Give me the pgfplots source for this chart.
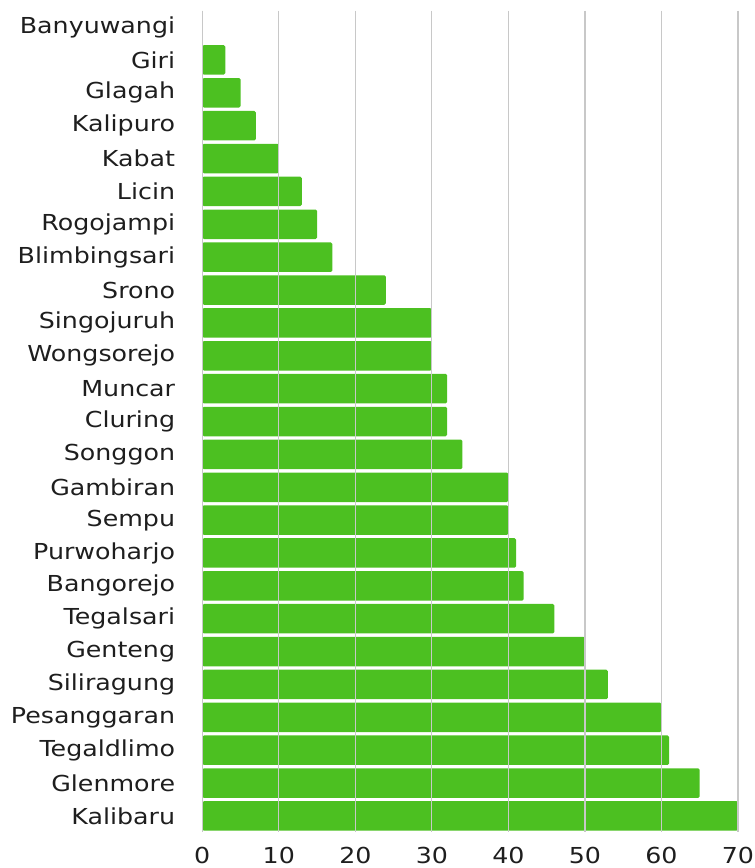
\documentclass[border=0pt]{standalone}
\usepackage{fontspec}
\setmainfont[FakeStretch=1.15]{DejaVu Sans}
\usepackage{pgfplots}
\pgfplotsset{compat=1.18}
\definecolor{bargreen}{RGB}{76,192,33}
\definecolor{gridgray}{RGB}{200,200,200}
\definecolor{txt}{RGB}{30,30,30}
\begin{document}
\begin{tikzpicture}
\begin{axis}[
  scale only axis,
  width=535.7bp, height=821.8bp,
  xbar, bar width=29.5bp,
  xmin=0, xmax=70,
  ymin=-0.5, ymax=24.5,
  y dir=reverse,
  axis line style={draw=none},
  axis on top,
  xmajorgrids, grid style={gridgray, line width=1.2bp},
  xtick={0,10,...,70},
  ytick={0,...,24},
  yticklabels={Banyuwangi,Giri,Glagah,Kalipuro,Kabat,Licin,Rogojampi,Blimbingsari,Srono,Singojuruh,Wongsorejo,Muncar,Cluring,Songgon,Gambiran,Sempu,Purwoharjo,Bangorejo,Tegalsari,Genteng,Siliragung,Pesanggaran,Tegaldlimo,Glenmore,Kalibaru},
  major tick length=0,
  tick style={draw=none},
  /pgf/number format/assume math mode=true,
  tick label style={font=\fontsize{22bp}{26bp}\selectfont, text=txt, inner sep=0pt},
  y tick label style={anchor=east, xshift=-27bp},
  x tick label style={anchor=north, yshift=-14.5bp},
]
\addplot[fill=bargreen, draw=none, rounded corners=1.5bp] coordinates {
(0,0) (3,1) (5,2) (7,3) (10,4) (13,5) (15,6) (17,7) (24,8) (30,9) (30,10) (32,11) (32,12) (34,13) (40,14) (40,15) (41,16) (42,17) (46,18) (50,19) (53,20) (60,21) (61,22) (65,23) (70,24)
};
\end{axis}
\path (current axis.south west) ++(-202.3bp,-35.6bp) coordinate (bl);
\path (current axis.north east) ++(17bp,10.6bp) coordinate (tr);
\pgfresetboundingbox
\path[use as bounding box] (bl) rectangle (tr);
\end{tikzpicture}
\end{document}
